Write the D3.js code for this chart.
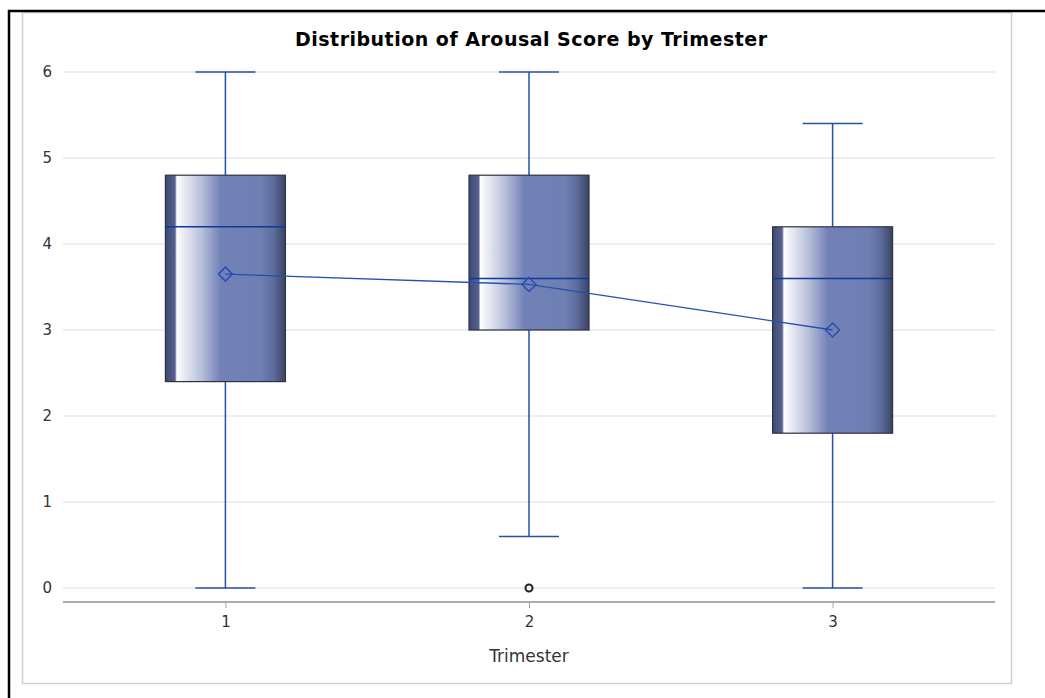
<!DOCTYPE html>
<html>
<head>
<meta charset="utf-8">
<script src="https://cdn.jsdelivr.net/npm/d3@7/dist/d3.min.js"></script>
<style>
  body { margin: 0; background: #fff; }
  svg { display: block; font-family: "DejaVu Sans", Verdana, sans-serif; }
</style>
</head>
<body>
<svg width="1045" height="698"></svg>
<script>
// data
var trimesters = ["1", "2", "3"];
var whiskerLow = [0, 0.6, 0];
var q1 = [2.4, 3.0, 1.8];
var median = [4.2, 3.6, 3.6];
var q3 = [4.8, 4.8, 4.2];
var whiskerHigh = [6, 6, 5.4];
var means = [3.65, 3.53, 3.0];
var outliers = [[], [0], []];
var yTicks = [0, 1, 2, 3, 4, 5, 6];

var boxes = trimesters.map(function (t, i) {
    return { t: t, lo: whiskerLow[i], q1: q1[i], med: median[i], q3: q3[i], hi: whiskerHigh[i], mean: means[i], out: outliers[i] };
});

var svg = d3.select("svg");

// outer frame
svg.append("rect").attr("x", 22.5).attr("y", 12.5).attr("width", 989).attr("height", 671)
    .attr("fill", "#fff").attr("stroke", "#d0d0d0").attr("stroke-width", 1.5);
svg.append("line").attr("x1", 8).attr("x2", 1045).attr("y1", 11).attr("y2", 11)
    .attr("stroke", "#000").attr("stroke-width", 2.5);
svg.append("line").attr("x1", 9).attr("x2", 9).attr("y1", 10).attr("y2", 698)
    .attr("stroke", "#000").attr("stroke-width", 2.5);

var x = d3.scalePoint().domain(trimesters).range([63, 995]).padding(0.535);
var y = d3.scaleLinear().domain([0, 6]).range([588, 72]);
var boxW = 120, capW = 60;

// gradient for the boxes
var grad = svg.append("defs").append("linearGradient").attr("id", "boxfill")
    .attr("x1", "0%").attr("x2", "100%").attr("y1", "0%").attr("y2", "0%");
[[0, "#3e4a72"], [0.08, "#56618f"], [0.095, "#ffffff"], [0.13, "#f2f3f8"], [0.3, "#b7bfdb"], [0.46, "#7282b6"],
 [0.8, "#6e7fb3"], [0.9, "#5e6c9c"], [1, "#3a4366"]].forEach(function (s) {
    grad.append("stop").attr("offset", s[0]).attr("stop-color", s[1]);
});

// grid
svg.append("g").selectAll("line").data(yTicks).enter().append("line")
    .attr("x1", 63).attr("x2", 995)
    .attr("y1", function (d) { return y(d); }).attr("y2", function (d) { return y(d); })
    .attr("stroke", "#e8e8e8").attr("stroke-width", 1.5);

// y axis labels
svg.append("g").attr("font-size", 15).attr("fill", "#333").attr("text-anchor", "end")
    .selectAll("text").data(yTicks).enter().append("text")
    .attr("x", 52).attr("y", function (d) { return y(d); }).attr("dy", "0.36em")
    .text(function (d) { return d; });

// x axis
var xAxis = svg.append("g").attr("transform", "translate(0,602)")
    .call(d3.axisBottom(x).tickSize(6).tickPadding(8).tickSizeOuter(0));
xAxis.select(".domain").attr("d", "M63,0H995").attr("stroke", "#8a9096").attr("stroke-width", 1.5);
xAxis.selectAll(".tick line").attr("stroke", "#a0a4a8");
xAxis.selectAll(".tick text").attr("font-size", 15).attr("fill", "#333")
    .attr("font-family", "DejaVu Sans, Verdana, sans-serif");

svg.append("text").attr("x", 529).attr("y", 662).attr("text-anchor", "middle")
    .attr("font-size", 17).attr("fill", "#333").text("Trimester");

// title, set a bit wider as in the original
svg.append("text").attr("x", 531).attr("y", 46).attr("text-anchor", "middle")
    .attr("font-size", 19).attr("font-weight", "bold").attr("fill", "#000")
    .attr("textLength", 472).attr("lengthAdjust", "spacing")
    .text("Distribution of Arousal Score by Trimester");

var blue = "#2350b0";
var g = svg.append("g").selectAll("g").data(boxes).enter().append("g");

// whiskers
g.append("line").attr("x1", function (d) { return x(d.t); }).attr("x2", function (d) { return x(d.t); })
    .attr("y1", function (d) { return y(d.hi); }).attr("y2", function (d) { return y(d.lo); })
    .attr("stroke", blue).attr("stroke-width", 1.5);
g.append("line").attr("x1", function (d) { return x(d.t) - capW / 2; }).attr("x2", function (d) { return x(d.t) + capW / 2; })
    .attr("y1", function (d) { return y(d.hi); }).attr("y2", function (d) { return y(d.hi); })
    .attr("stroke", blue).attr("stroke-width", 1.5);
g.append("line").attr("x1", function (d) { return x(d.t) - capW / 2; }).attr("x2", function (d) { return x(d.t) + capW / 2; })
    .attr("y1", function (d) { return y(d.lo); }).attr("y2", function (d) { return y(d.lo); })
    .attr("stroke", blue).attr("stroke-width", 1.5);

// boxes
g.append("rect").attr("x", function (d) { return x(d.t) - boxW / 2; })
    .attr("y", function (d) { return y(d.q3); })
    .attr("width", boxW)
    .attr("height", function (d) { return y(d.q1) - y(d.q3); })
    .attr("fill", "url(#boxfill)").attr("stroke", "#2e3140").attr("stroke-width", 1.2);

// median
g.append("line").attr("x1", function (d) { return x(d.t) - boxW / 2; }).attr("x2", function (d) { return x(d.t) + boxW / 2; })
    .attr("y1", function (d) { return y(d.med); }).attr("y2", function (d) { return y(d.med); })
    .attr("stroke", "#0c3a9c").attr("stroke-width", 1.5);

// outliers
g.selectAll("circle").data(function (d) { return d.out.map(function (v) { return { t: d.t, v: v }; }); })
    .enter().append("circle")
    .attr("cx", function (d) { return x(d.t); }).attr("cy", function (d) { return y(d.v); })
    .attr("r", 3.5).attr("fill", "none").attr("stroke", "#222").attr("stroke-width", 2);

// mean connect line and diamonds
svg.append("path").datum(boxes)
    .attr("d", d3.line().x(function (d) { return x(d.t); }).y(function (d) { return y(d.mean); }))
    .attr("fill", "none").attr("stroke", blue).attr("stroke-width", 1.3);

svg.append("g").selectAll("path").data(boxes).enter().append("path")
    .attr("transform", function (d) { return "translate(" + x(d.t) + "," + y(d.mean) + ")"; })
    .attr("d", "M0,-7L7,0L0,7L-7,0Z")
    .attr("fill", "none").attr("stroke", blue).attr("stroke-width", 1.5);
</script>
</body>
</html>
